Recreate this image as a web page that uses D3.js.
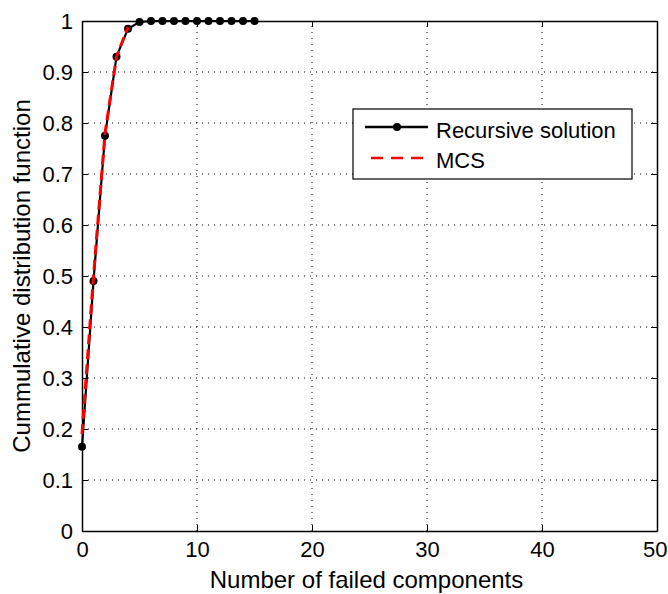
<!DOCTYPE html>
<html><head><meta charset="utf-8">
<script src="https://cdn.jsdelivr.net/npm/d3@7"></script>
<style>body{margin:0;background:#fff}text{font-family:"Liberation Sans",Arial,sans-serif}</style>
</head><body><svg id="c" width="668" height="594"></svg>
<script>
const xVals = [0,1,2,3,4,5,6,7,8,9,10,11,12,13,14,15];
const recursive = [0.165,0.49,0.775,0.93,0.985,0.998,1,1,1,1,1,1,1,1,1,1];
const mcsX = [0,1,2,3,4];
const mcs = [0.19,0.50,0.78,0.93,0.988];
const xTicks = [0,10,20,30,40,50];
const yTicks = [0,0.1,0.2,0.3,0.4,0.5,0.6,0.7,0.8,0.9,1];
const seriesNames = ["Recursive solution","MCS"];

const svg = d3.select("#c");
const L=82,R=657,T=21,B=531;
const x = d3.scaleLinear().domain([0,50]).range([L,R]);
const y = d3.scaleLinear().domain([0,1]).range([B,T]);
const tfs = 22, lfs = 24, gfs = 22;

// grid
const g = svg.append("g");
g.selectAll(".gx").data(xTicks.slice(1,-1)).enter().append("line")
 .attr("x1",d=>x(d)).attr("x2",d=>x(d)).attr("y1",B).attr("y2",T)
 .attr("stroke","#000").attr("stroke-width",1).attr("stroke-dasharray","1,5");
g.selectAll(".gy").data(yTicks.slice(1,-1)).enter().append("line")
 .attr("y1",d=>y(d)).attr("y2",d=>y(d)).attr("x1",L).attr("x2",R)
 .attr("stroke","#000").attr("stroke-width",1).attr("stroke-dasharray","1,5");

// axes
const xa = svg.append("g").attr("transform",`translate(0,${B})`)
 .call(d3.axisBottom(x).tickValues(xTicks).tickSizeInner(-6).tickSizeOuter(0).tickPadding(10).tickFormat(d3.format("d")));
const xt = svg.append("g").attr("transform",`translate(0,${T})`)
 .call(d3.axisTop(x).tickValues(xTicks).tickSizeInner(-6).tickSizeOuter(0).tickFormat(""));
const ya = svg.append("g").attr("transform",`translate(${L},0)`)
 .call(d3.axisLeft(y).tickValues(yTicks).tickSizeInner(-6).tickSizeOuter(0).tickPadding(9).tickFormat(d=>d===0||d===1?d3.format("d")(d):d3.format(".1f")(d)));
const yr = svg.append("g").attr("transform",`translate(${R},0)`)
 .call(d3.axisRight(y).tickValues(yTicks).tickSizeInner(-6).tickSizeOuter(0).tickFormat(""));
[xa,xt,ya,yr].forEach(a=>{a.select(".domain").attr("stroke","#000").attr("stroke-width",1.5);
 a.selectAll(".tick line").attr("stroke","#000");
 a.selectAll("text").attr("font-size",tfs).attr("fill","#000").style("font-family","'Liberation Sans',Arial,sans-serif");});
// keep the last x tick label inside the window
xa.selectAll(".tick text").filter(d=>d===50).attr("text-anchor","end").attr("x",10);

// lines
const line = d3.line().x((d,i)=>x(xVals[i])).y(d=>y(d));
const lineM = d3.line().x((d,i)=>x(mcsX[i])).y(d=>y(d));
svg.append("path").datum(recursive).attr("d",line).attr("fill","none").attr("stroke","#000").attr("stroke-width",2.2);
svg.selectAll(".pt").data(recursive).enter().append("circle")
 .attr("cx",(d,i)=>x(xVals[i])).attr("cy",d=>y(d)).attr("r",4).attr("fill","#000");
svg.append("path").datum(mcs).attr("d",lineM).attr("fill","none").attr("stroke","#f00").attr("stroke-width",3).attr("stroke-dasharray","10,5");

// legend
const lg = svg.append("g");
lg.append("rect").attr("x",353).attr("y",109).attr("width",279).attr("height",70).attr("fill","#fff").attr("stroke","#000").attr("stroke-width",1.2);
lg.append("line").attr("x1",365).attr("x2",428).attr("y1",127).attr("y2",127).attr("stroke","#000").attr("stroke-width",2.5);
lg.append("circle").attr("cx",397).attr("cy",127).attr("r",4).attr("fill","#000");
lg.append("line").attr("x1",371).attr("x2",428).attr("y1",158).attr("y2",158).attr("stroke","#f00").attr("stroke-width",2.5).attr("stroke-dasharray","12,8");
lg.append("text").attr("x",436).attr("y",138).attr("font-size",gfs).text(seriesNames[0]);
lg.append("text").attr("x",436).attr("y",168).attr("font-size",gfs).text(seriesNames[1]);

// labels
svg.append("text").attr("x",(L+R)/2 - 3).attr("y",588).attr("text-anchor","middle").attr("font-size",lfs).text("Number of failed components");
svg.append("text").attr("transform",`translate(30,${(T+B)/2}) rotate(-90)`).attr("text-anchor","middle").attr("font-size",lfs).text("Cummulative distribution function");
</script></body></html>
